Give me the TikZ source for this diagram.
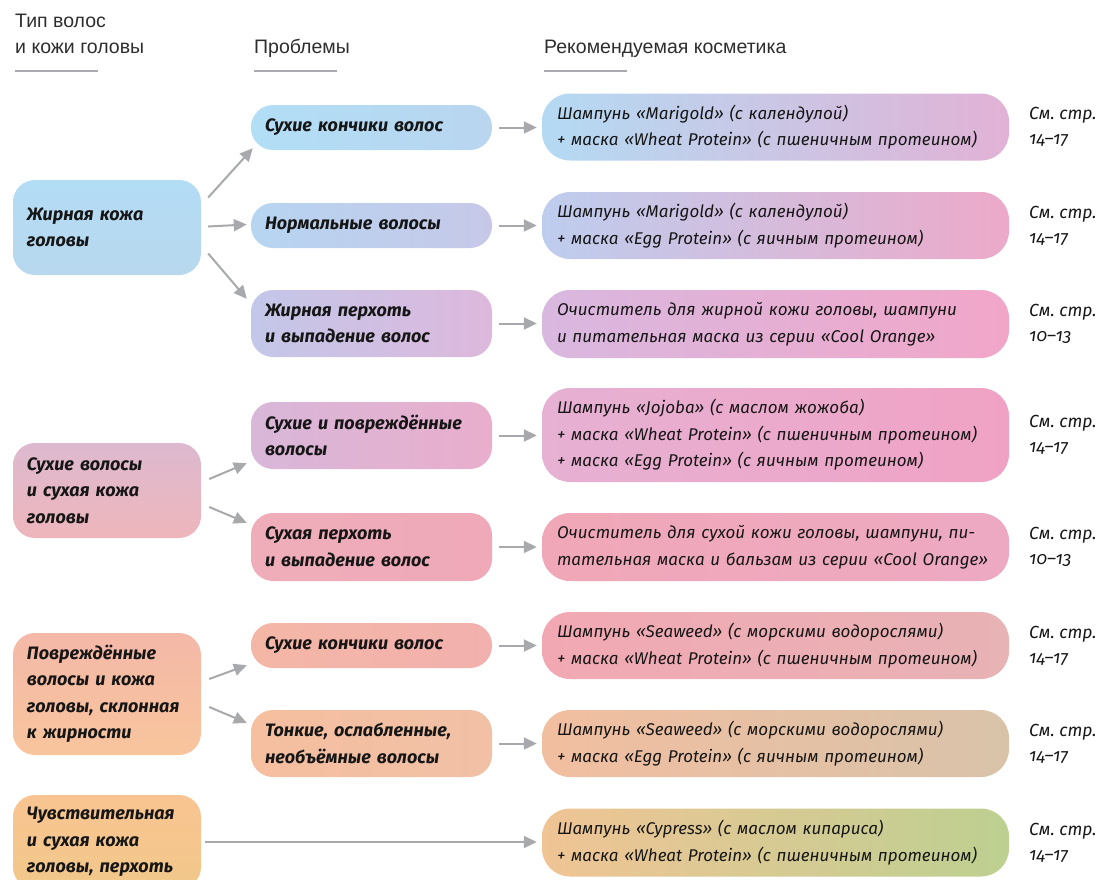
\documentclass[tikz,border=0pt]{standalone}
\usepackage{fontspec}
\setmainfont{Fira Sans}
\newfontfamily\headfont{Liberation Sans}
\newfontfamily\reffont{Fira Sans}[Numbers=OldStyle]
\usetikzlibrary{arrows.meta}

\definecolor{linegray}{HTML}{A7A9AC}
\definecolor{rulegray}{HTML}{A9AAB0}
\definecolor{textblack}{HTML}{161616}
% box colours, a = start, b = end of the shading
\definecolor{L1a}{HTML}{B3DCF5}\definecolor{L1b}{HTML}{B8D8EE}
\definecolor{L2a}{HTML}{DDB9CF}\definecolor{L2b}{HTML}{EEB6BC}
\definecolor{L3a}{HTML}{F4B8A8}\definecolor{L3b}{HTML}{F8C59D}
\definecolor{L4a}{HTML}{F9C491}\definecolor{L4b}{HTML}{F1C88A}
\definecolor{M1a}{HTML}{B2DEF6}\definecolor{M1b}{HTML}{B9D5EF}
\definecolor{M2a}{HTML}{B6D5F1}\definecolor{M2b}{HTML}{C7C8E8}
\definecolor{M3a}{HTML}{C3C7E9}\definecolor{M3b}{HTML}{DDB8DC}
\definecolor{M4a}{HTML}{D8B7D9}\definecolor{M4b}{HTML}{E9AECC}
\definecolor{M5a}{HTML}{EFADB9}\definecolor{M5b}{HTML}{EFA9B9}
\definecolor{M6a}{HTML}{F4B7A6}\definecolor{M6b}{HTML}{F2B0AE}
\definecolor{M7a}{HTML}{F5BFA0}\definecolor{M7b}{HTML}{F1C0A5}
\definecolor{R1a}{HTML}{B4DAF3}\definecolor{R1b}{HTML}{E1B2D6}
\definecolor{R2a}{HTML}{BECDEE}\definecolor{R2b}{HTML}{EDA9C9}
\definecolor{R3a}{HTML}{D9B8E0}\definecolor{R3b}{HTML}{F1A6C8}
\definecolor{R4a}{HTML}{E6B1D3}\definecolor{R4b}{HTML}{F0A2C4}
\definecolor{R5a}{HTML}{F0A8B8}\definecolor{R5b}{HTML}{EDA9C2}
\definecolor{R6a}{HTML}{F2A8B3}\definecolor{R6b}{HTML}{E7B3B5}
\definecolor{R7a}{HTML}{F2BEA0}\definecolor{R7b}{HTML}{D8C3A9}
\definecolor{R8a}{HTML}{F0C495}\definecolor{R8b}{HTML}{BDD091}

\newcommand{\Pages}[1]{См.\ стр.\\#1}

\tikzset{
  box/.style={rounded corners=22pt, align=left, inner xsep=14pt, inner ysep=0pt,
    text=textblack, font=\fontsize{18}{26.5}\selectfont\bfseries\itshape},
  typebox/.style={box, text width=160pt, top color=#1a, bottom color=#1b},
  probbox/.style={box, text width=213pt, left color=#1a, right color=#1b},
  cosmbox/.style={box, rounded corners=28pt, inner xsep=15pt, text width=437pt,
    left color=#1a, right color=#1b, font=\fontsize{17}{26.5}\selectfont\itshape},
  pages/.style={anchor=west, align=left, inner sep=0pt, text=textblack,
    font=\reffont\fontsize{17.5}{25}\selectfont\itshape},
  head/.style={anchor=base west, align=left, inner sep=0pt, text=textblack!90,
    font=\headfont\fontsize{19.5}{26}\selectfont},
  link/.style={->, draw=linegray, line width=2pt},
  headrule/.style={draw=rulegray, line width=2pt}
}

\begin{document}
\begin{tikzpicture}[x=1pt, y=-1pt, >={Triangle[length=13pt,width=12pt]}]
    \useasboundingbox (0,0) rectangle (1102,879);

    % column heads
    \draw(15,53) node[head] (H1) {Тип волос\\и кожи головы};
    \draw(254,53) node[head] (H2) {Проблемы};
    \draw(544,53) node[head] (H3) {Рекомендуемая косметика};
    \draw[headrule] (15,71) -- (98,71);
    \draw[headrule] (254,71) -- (337,71);
    \draw[headrule] (544,71) -- (627,71);

    % hair and scalp type
    \draw(107,227.5) node[typebox=L1, minimum height=95pt] (L1) {Жирная кожа\\головы};
    \draw(107,490.5) node[typebox=L2, minimum height=95pt] (L2) {Сухие волосы\\и сухая кожа\\головы};
    \draw(107,694) node[typebox=L3, minimum height=122pt] (L3) {Повреждённые\\волосы и кожа\\головы, склонная\\к жирности};
    \draw(107,842) node[typebox=L4, minimum height=94pt] (L4) {Чувствительная\\и сухая кожа\\головы, перхоть};

    % problems
    \draw(371.5,127.5) node[probbox=M1, minimum height=45pt] (M1) {Сухие кончики волос};
    \draw(371.5,225.5) node[probbox=M2, minimum height=45pt] (M2) {Нормальные волосы};
    \draw(371.5,323.5) node[probbox=M3, minimum height=67pt] (M3) {Жирная перхоть\\и выпадение волос};
    \draw(371.5,435.5) node[probbox=M4, minimum height=67pt] (M4) {Сухие и повреждённые\\волосы};
    \draw(371.5,547) node[probbox=M5, minimum height=68pt] (M5) {Сухая перхоть\\и выпадение волос};
    \draw(371.5,645.5) node[probbox=M6, minimum height=45pt] (M6) {Сухие кончики волос};
    \draw(371.5,743.5) node[probbox=M7, minimum height=67pt] (M7) {Тонкие, ослабленные,\\необъёмные волосы};

    % cosmetics
    \draw(775.5,127) node[cosmbox=R1, minimum height=67pt] (R1) {Шампунь «Marigold» (с календулой)\\+ маска «Wheat Protein» (с пшеничным протеином)};
    \draw(775.5,225.5) node[cosmbox=R2, minimum height=67pt] (R2) {Шампунь «Marigold» (с календулой)\\+ маска «Egg Protein» (с яичным протеином)};
    \draw(775.5,324) node[cosmbox=R3, minimum height=68pt] (R3) {Очиститель для жирной кожи головы, шампуни\\и питательная маска из серии «Cool Orange»};
    \draw(775.5,435) node[cosmbox=R4, minimum height=94pt] (R4) {Шампунь «Jojoba» (с маслом жожоба)\\+ маска «Wheat Protein» (с пшеничным протеином)\\+ маска «Egg Protein» (с яичным протеином)};
    \draw(775.5,547) node[cosmbox=R5, minimum height=68pt] (R5) {Очиститель для сухой кожи головы, шампуни, пи-\\тательная маска и бальзам из серии «Cool~Orange»};
    \draw(775.5,645.5) node[cosmbox=R6, minimum height=67pt] (R6) {Шампунь «Seaweed» (с морскими водорослями)\\+ маска «Wheat Protein» (с пшеничным протеином)};
    \draw(775.5,743.5) node[cosmbox=R7, minimum height=67pt] (R7) {Шампунь «Seaweed» (с морскими водорослями)\\+ маска «Egg Protein» (с яичным протеином)};
    \draw(775.5,842.5) node[cosmbox=R8, minimum height=68pt] (R8) {Шампунь «Cypress» (с маслом кипариса)\\+ маска «Wheat Protein» (с пшеничным протеином)};

    % page references
    \draw(1029,127) node[pages] (P1) {\Pages{14–17}};
    \draw(1029,225.5) node[pages] (P2) {\Pages{14–17}};
    \draw(1029,324) node[pages] (P3) {\Pages{10–13}};
    \draw(1029,435) node[pages] (P4) {\Pages{14–17}};
    \draw(1029,547) node[pages] (P5) {\Pages{10–13}};
    \draw(1029,645.5) node[pages] (P6) {\Pages{14–17}};
    \draw(1029,743.5) node[pages] (P7) {\Pages{14–17}};
    \draw(1029,842.5) node[pages] (P8) {\Pages{14–17}};

    % type -> problem
    \draw[link] ([xshift=7pt,yshift=30pt]L1.east) to ([xshift=2pt,yshift=2pt]M1.south west);
    \draw[link] ([xshift=7pt,yshift=1pt]L1.east) to ([xshift=-4pt,yshift=1pt]M2.west);
    \draw[link] ([xshift=7pt,yshift=-26pt]L1.east) to ([xshift=-4pt,yshift=-9pt]M3.north west);
    \draw[link] ([xshift=8pt,yshift=11.5pt]L2.east) to ([xshift=-4pt,yshift=6pt]M4.south west);
    \draw[link] ([xshift=8pt,yshift=-16.5pt]L2.east) to ([xshift=-4pt,yshift=-10pt]M5.north west);
    \draw[link] ([xshift=8pt,yshift=15pt]L3.east) to ([xshift=-4pt,yshift=3pt]M6.south west);
    \draw[link] ([xshift=8pt,yshift=-13pt]L3.east) to ([xshift=-4pt,yshift=-13pt]M7.north west);
    \draw[link, shorten <=4pt, shorten >=5pt] (L4.east) to (L4.east -| R8.west);

    % problem -> cosmetics
    \foreach \i in {1,...,7}
        \draw[link, shorten <=7pt, shorten >=5pt] (M\i.east) to (M\i.east -| R\i.west);

    \end{tikzpicture}
\end{document}
